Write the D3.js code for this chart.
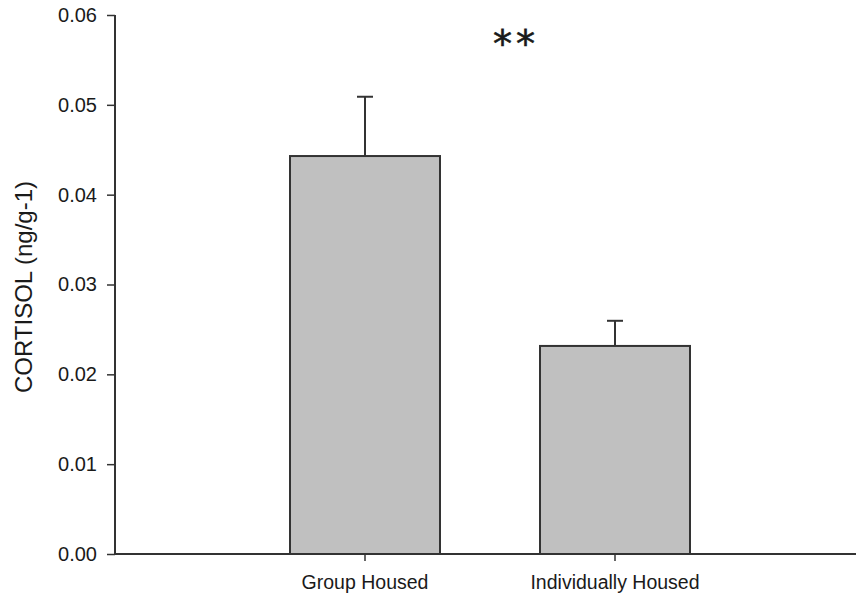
<!DOCTYPE html>
<html>
<head>
  <meta charset="utf-8">
  <title>Cortisol</title>
  <style>
    body { margin: 0; background: #fff; }
    text { font-family: "Liberation Sans", Arial, sans-serif; fill: #1a1a1a; }
  </style>
</head>
<body>
  <div id="chart"></div>
  <script src="https://cdn.jsdelivr.net/npm/d3@7"></script>
  <script>
    var categories = ["Group Housed", "Individually Housed"];
    var means = [0.0443, 0.02316];
    var errors = [0.0066, 0.0028];
    var yTicks = [0, 0.01, 0.02, 0.03, 0.04, 0.05, 0.06];

    var width = 856, height = 601;
    var axisX = 115, axisBottom = 554, axisTop = 15;

    var svg = d3.select("#chart").append("svg")
        .attr("width", width)
        .attr("height", height);

    var y = d3.scaleLinear().domain([0, 0.06]).range([axisBottom, axisTop]);
    var x = d3.scaleBand().domain(categories)
        .range([240, 740])
        .paddingInner(0.4)
        .paddingOuter(0.2);

    // bars
    svg.selectAll(".bar")
        .data(categories)
        .enter().append("rect")
        .attr("x", function(d) { return x(d); })
        .attr("y", function(d, i) { return y(means[i]); })
        .attr("width", x.bandwidth())
        .attr("height", function(d, i) { return axisBottom - y(means[i]); })
        .attr("fill", "#c0c0c0")
        .attr("stroke", "#333")
        .attr("stroke-width", 2);

    // error bars (upper only)
    var eb = svg.selectAll(".err").data(categories).enter().append("g");
    eb.append("line")
        .attr("x1", function(d) { return x(d) + x.bandwidth() / 2; })
        .attr("x2", function(d) { return x(d) + x.bandwidth() / 2; })
        .attr("y1", function(d, i) { return y(means[i]); })
        .attr("y2", function(d, i) { return y(means[i] + errors[i]); })
        .attr("stroke", "#333").attr("stroke-width", 2);
    eb.append("line")
        .attr("x1", function(d) { return x(d) + x.bandwidth() / 2 - 8; })
        .attr("x2", function(d) { return x(d) + x.bandwidth() / 2 + 8; })
        .attr("y1", function(d, i) { return y(means[i] + errors[i]); })
        .attr("y2", function(d, i) { return y(means[i] + errors[i]); })
        .attr("stroke", "#333").attr("stroke-width", 2);

    // y axis
    var yAxis = svg.append("g")
        .attr("transform", "translate(" + axisX + ",0)")
        .call(d3.axisLeft(y).tickValues(yTicks).tickFormat(d3.format(".2f")).tickSize(8).tickPadding(10));
    yAxis.select(".domain").attr("d", "M0," + axisTop + "V" + axisBottom).attr("stroke", "#333").attr("stroke-width", 2);
    yAxis.selectAll(".tick line").attr("stroke", "#333").attr("stroke-width", 1.5);
    yAxis.selectAll(".tick text").style("font-size", "20px").attr("fill", "#1a1a1a");

    // x axis
    var xAxis = svg.append("g")
        .attr("transform", "translate(0," + axisBottom + ")")
        .call(d3.axisBottom(x).tickSize(7).tickPadding(14));
    xAxis.select(".domain").attr("d", "M" + axisX + ",0H" + width).attr("stroke", "#333").attr("stroke-width", 2);
    xAxis.selectAll(".tick line").attr("stroke", "#333").attr("stroke-width", 1.5);
    xAxis.selectAll(".tick text").style("font-size", "19.5px").attr("fill", "#1a1a1a");

    // y label
    svg.append("text")
        .attr("transform", "translate(32," + 287 + ") rotate(-90)")
        .attr("text-anchor", "middle")
        .style("font-size", "24px")
        .text("CORTISOL (ng/g-1)");

    // significance marker
    svg.append("text")
        .attr("x", 516)
        .attr("y", 57)
        .attr("text-anchor", "middle")
        .style("font-family", "'DejaVu Sans', sans-serif")
        .style("font-size", "38px")
        .style("letter-spacing", "4px")
        .attr("stroke", "#1a1a1a")
        .attr("stroke-width", 0.6)
        .text("**");
  </script>
</body>
</html>
